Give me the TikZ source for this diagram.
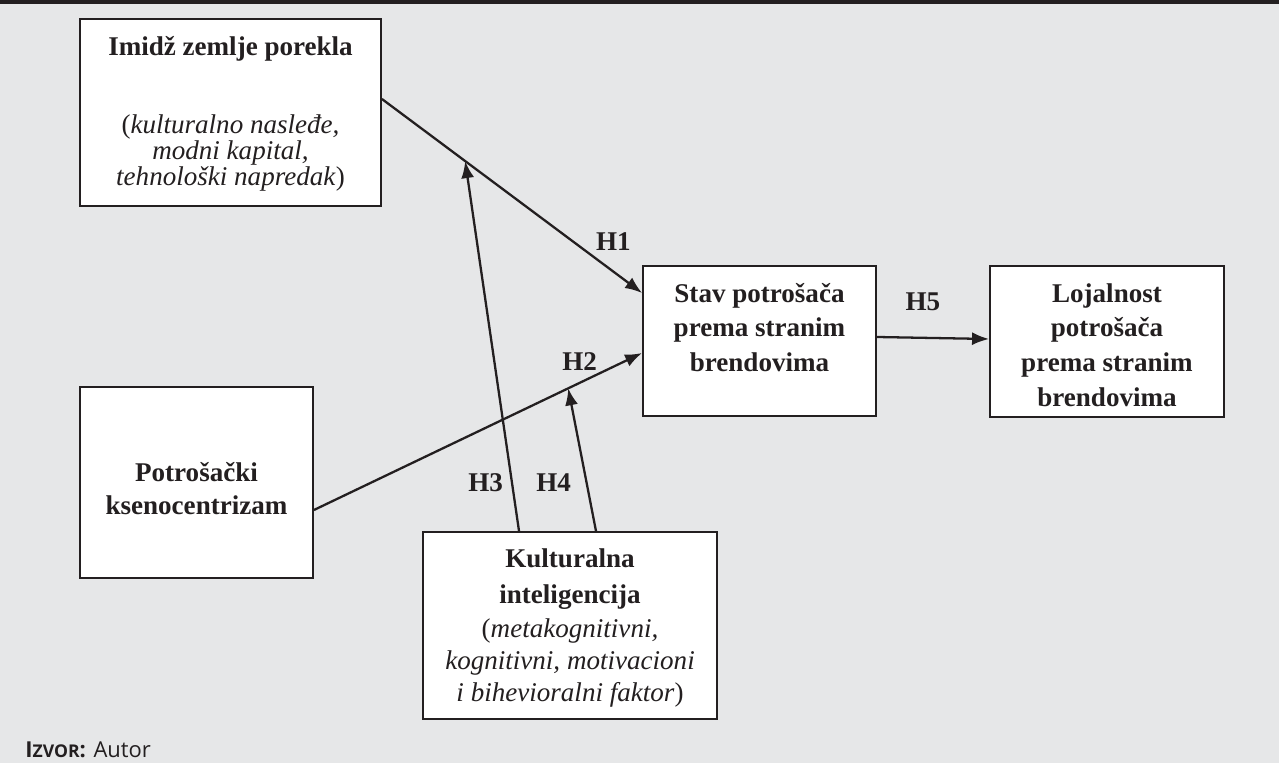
\documentclass[tikz,border=0pt]{standalone}
\usepackage{fontspec}
\setmainfont{Liberation Serif}
\newfontfamily\srcfont{Open Sans}
\usetikzlibrary{arrows.meta}

\definecolor{ink}{HTML}{231F20}
\definecolor{panel}{HTML}{E6E7E8}

% box text: width, height, first baseline, line skip, lines
\newcommand{\boxtext}[5]{\parbox[c][#2][t]{#1}{\centering\lineskiplimit=-1cm
  \fontsize{15.4pt}{#4}\selectfont\rule{0pt}{#3}#5}}

\begin{document}
\begin{tikzpicture}[x=0.02cm, y=-0.02cm,
    box/.style={draw=ink, line width=1.1pt, fill=white, inner sep=0pt, text=ink},
    arr/.style={-{Latex[length=0.34cm,width=0.26cm]}, draw=ink, line width=1.3pt},
    hyp/.style={inner sep=0pt, text=ink, font=\fontsize{15.4pt}{18pt}\selectfont\bfseries}]

    \fill [panel] (0,0) rectangle (1279,763);
    \fill [ink] (0,0) rectangle (1279,4);
    \useasboundingbox (0,0) rectangle (1279,763);

    \node (1) [box] at (230.5,112.5) {\boxtext{6.02cm}{3.74cm}{0.72cm}{0.52cm}{%
        \textbf{Imidž zemlje porekla}\\[1.06cm](\textit{kulturalno nasleđe,}\\
        \textit{modni kapital,}\\\textit{tehnološki napredak})}};
    \node (2) [box] at (196.5,482.5) {\boxtext{4.66cm}{3.82cm}{1.90cm}{0.66cm}{%
        \bfseries Potrošački\\ksenocentrizam}};
    \node (3) [box] at (759.5,341) {\boxtext{4.66cm}{3.0cm}{0.72cm}{0.70cm}{%
        \bfseries Stav potrošača\\prema stranim\\brendovima}};
    \node (4) [box] at (1107,341.5) {\boxtext{4.68cm}{3.02cm}{0.72cm}{0.70cm}{%
        \bfseries Lojalnost\\potrošača\\prema stranim\\brendovima}};
    \node (5) [box] at (570,625.5) {\boxtext{5.88cm}{3.74cm}{0.70cm}{0.64cm}{%
        \textbf{Kulturalna}\\[0.08cm]\textbf{inteligencija}\\[0.06cm](\textit{metakognitivni,}\\
        \textit{kognitivni, motivacioni}\\\textit{i bihevioralni faktor})}};

    \node (6) [anchor=base west, inner sep=0pt, text=ink, font=\srcfont\fontsize{12.5pt}{14pt}\selectfont]
        at (25,757) {\textbf{I{\fontsize{10pt}{11pt}\selectfont ZVOR}:}\hspace{0.35em}Autor};

    \draw [arr] ([yshift=0.27cm]1.east) to coordinate[pos=0.32] (m1)
        node [hyp, pos=0.89, above=0.40cm] {H1} ([yshift=0.96cm]3.west);
    \draw [arr] ([yshift=-0.55cm]2.east) to coordinate[pos=0.775] (m2)
        node [hyp, pos=0.81, above=0.22cm] {H2} ([yshift=-0.24cm]3.west);
    \draw [arr] ([xshift=-1.02cm]5.north) to node [hyp, pos=0.13, left=0.16cm] {H3} (m1);
    \draw [arr] ([xshift=0.52cm]5.north) to node [hyp, pos=0.34, left=0.29cm] {H4} (m2);
    \draw [arr] ([yshift=0.08cm]3.east) to node [hyp, pos=0.41, above=0.52cm] {H5} ([yshift=0.05cm]4.west);
\end{tikzpicture}
\end{document}
